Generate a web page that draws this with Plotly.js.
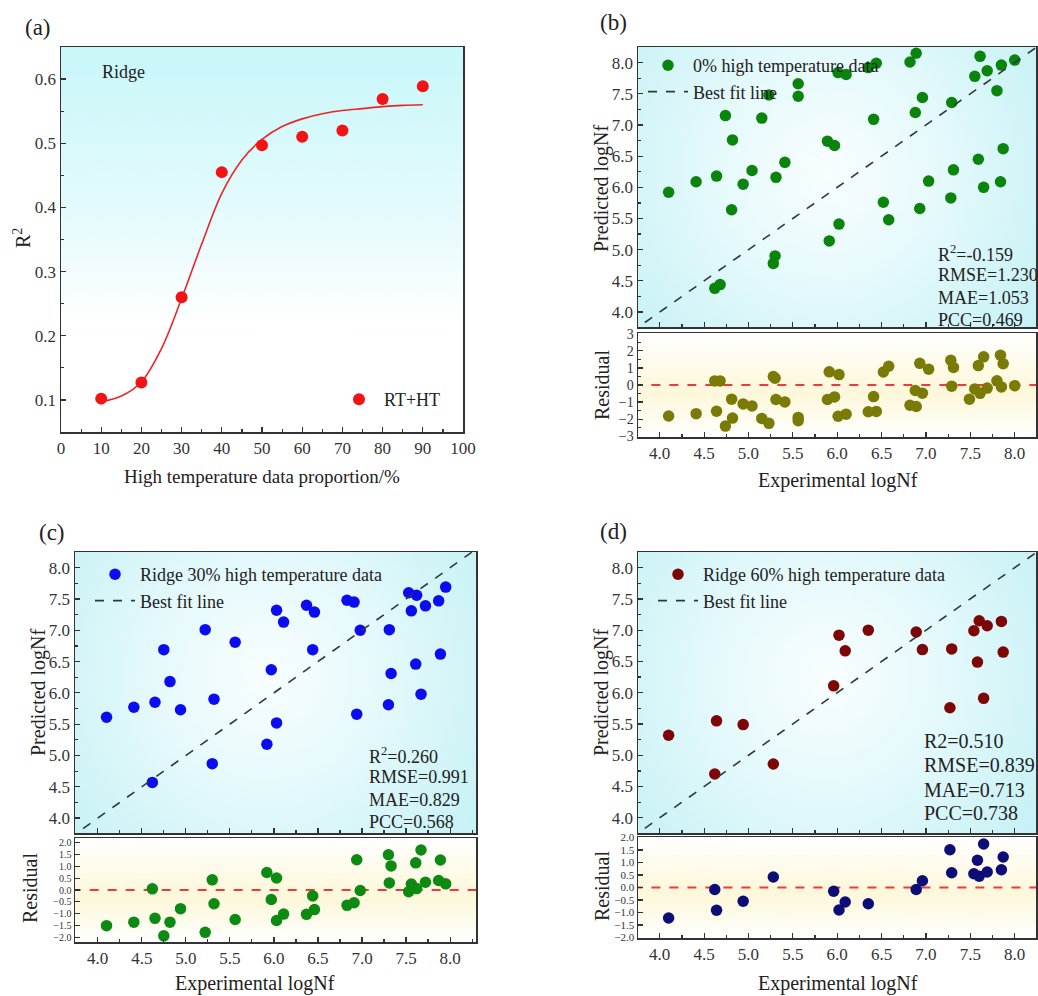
<!DOCTYPE html>
<html>
<head>
<meta charset="utf-8">
<script src="https://cdn.plot.ly/plotly-3.0.1.min.js"></script>
<style>html,body{margin:0;padding:0;background:#fff;}#chart{width:1038px;height:996px;}</style>
</head>
<body>
<div id="chart"></div>
<script>
// ---------------- DATA ----------------
// (a) R2 vs proportion of high temperature data
const aProportion = [10, 20, 30, 40, 50, 60, 70, 80, 90];
const aR2 = [0.102, 0.127, 0.260, 0.455, 0.497, 0.510, 0.520, 0.569, 0.589];
// fitted sigmoid curve
const aFitX = [10, 15, 20, 25, 30, 35, 40, 45, 50, 55, 60, 65, 70, 75, 80, 85, 90];
const aFitY = [0.097, 0.106, 0.128, 0.180, 0.258, 0.343, 0.422, 0.474, 0.506, 0.526, 0.538, 0.546, 0.551, 0.554, 0.557, 0.559, 0.560];

// (b) 0% high temperature data
const bExp  = [4.10,4.41,4.64,4.62,4.68,4.74,4.82,4.81,4.94,5.04,5.15,5.23,5.31,5.30,5.28,5.41,5.56,5.56,5.89,5.91,5.97,6.01,6.02,6.10,6.35,6.44,6.41,6.52,6.58,6.82,6.89,6.88,6.96,6.93,7.03,7.29,7.31,7.28,7.55,7.59,7.61,7.65,7.69,7.80,7.84,7.85,7.87,8.00];
const bPred = [5.92,6.09,6.18,4.38,4.44,7.15,6.76,5.64,6.05,6.27,7.11,7.48,6.16,4.90,4.78,6.40,7.66,7.46,6.74,5.14,6.67,7.84,5.41,7.81,7.92,7.99,7.09,5.76,5.48,8.01,8.15,7.20,7.44,5.66,6.10,7.36,6.28,5.83,7.78,6.45,8.10,6.00,7.87,7.55,6.09,7.96,6.62,8.04];
const bResX = [4.10,4.41,4.64,4.62,4.68,4.74,4.82,4.81,4.94,5.04,5.15,5.23,5.31,5.30,5.28,5.41,5.56,5.56,5.89,5.91,5.97,6.01,6.02,6.10,6.35,6.44,6.41,6.52,6.58,6.82,6.89,6.88,6.96,6.93,7.03,7.29,7.31,7.28,7.55,7.59,7.61,7.65,7.69,7.80,7.84,7.85,7.87,8.00,7.49];
const bRes  = [-1.82,-1.68,-1.54,0.24,0.24,-2.41,-1.94,-0.83,-1.11,-1.23,-1.96,-2.25,-0.85,0.40,0.50,-0.99,-2.10,-1.90,-0.85,0.77,-0.70,-1.83,0.61,-1.71,-1.57,-1.55,-0.68,0.76,1.10,-1.19,-1.26,-0.32,-0.48,1.27,0.93,-0.07,1.03,1.45,-0.23,1.14,-0.49,1.65,-0.18,0.25,1.75,-0.11,1.25,-0.04,-0.83];

// (c) Ridge 30% high temperature data
const cExp  = [4.10,4.41,4.65,4.62,4.75,4.82,4.94,5.22,5.32,5.30,5.56,5.92,5.97,6.03,6.03,6.11,6.37,6.44,6.46,6.83,6.91,6.98,6.94,7.31,7.33,7.30,7.53,7.56,7.62,7.61,7.67,7.72,7.87,7.89,7.95];
const cPred = [5.61,5.77,5.85,4.57,6.69,6.18,5.73,7.01,5.90,4.87,6.81,5.18,6.37,7.32,5.52,7.13,7.40,6.69,7.29,7.48,7.45,7.00,5.66,7.01,6.31,5.81,7.60,7.31,7.56,6.46,5.98,7.39,7.47,6.62,7.69];
const cResX = [4.10,4.41,4.65,4.62,4.75,4.82,4.94,5.22,5.32,5.30,5.56,5.92,5.97,6.03,6.03,6.11,6.37,6.44,6.46,6.83,6.91,6.98,6.94,7.31,7.33,7.30,7.53,7.56,7.62,7.61,7.67,7.72,7.87,7.89,7.95];
const cRes  = [-1.51,-1.36,-1.20,0.05,-1.94,-1.36,-0.79,-1.79,-0.58,0.43,-1.25,0.74,-0.40,-1.29,0.51,-1.02,-1.03,-0.25,-0.83,-0.65,-0.54,-0.02,1.28,0.30,1.02,1.49,-0.07,0.25,0.06,1.15,1.69,0.33,0.40,1.27,0.26];

// (d) Ridge 60% high temperature data
const dExp  = [4.10,4.64,4.62,4.94,5.28,5.96,6.02,6.09,6.35,6.89,6.96,7.29,7.27,7.54,7.60,7.58,7.65,7.69,7.85,7.87];
const dPred = [5.32,5.55,4.70,5.49,4.86,6.11,6.92,6.67,7.00,6.97,6.69,6.70,5.76,6.99,7.15,6.49,5.91,7.07,7.14,6.65];
const dResX = [4.10,4.64,4.62,4.94,5.28,5.96,6.02,6.09,6.35,6.89,6.96,7.29,7.27,7.54,7.60,7.58,7.65,7.69,7.85,7.87];
const dRes  = [-1.22,-0.91,-0.08,-0.55,0.42,-0.15,-0.90,-0.58,-0.65,-0.08,0.27,0.59,1.51,0.55,0.45,1.09,1.74,0.62,0.71,1.22];

// best fit (y = x) line end points and residual zero line
const fitLine = [3.5, 8.5];
const zeroLine = [0, 0];

// statistics text
const bStats = ["R<sup>2</sup>=-0.159", "RMSE=1.230", "MAE=1.053", "PCC=0.469"];
const cStats = ["R<sup>2</sup>=0.260", "RMSE=0.991", "MAE=0.829", "PCC=0.568"];
const dStats = ["R2=0.510", "RMSE=0.839", "MAE=0.713", "PCC=0.738"];

// ---------------- LAYOUT HELPERS ----------------
const W = 1038, H = 996;
const px = v => v / W;
const py = v => 1 - v / H;
const FONT = "Liberation Serif, Times New Roman, serif";
const AX = '#333333';

function gradLinear(stops) {
  const c = document.createElement('canvas'); c.width = 50; c.height = 300;
  const ctx = c.getContext('2d');
  const g = ctx.createLinearGradient(0, 0, 0, 300);
  stops.forEach(s => g.addColorStop(s[0], s[1]));
  ctx.fillStyle = g; ctx.fillRect(0, 0, 50, 300);
  return c.toDataURL();
}
function gradRadial() {
  const c = document.createElement('canvas'); c.width = 400; c.height = 280;
  const ctx = c.getContext('2d');
  ctx.fillStyle = '#c2f2f6'; ctx.fillRect(0, 0, 400, 280);
  const g = ctx.createRadialGradient(190, 125, 0, 190, 125, 290);
  g.addColorStop(0, '#f8feff');
  g.addColorStop(0.35, '#e8fafc');
  g.addColorStop(1, '#bff0f4');
  ctx.fillStyle = g; ctx.fillRect(0, 0, 400, 280);
  return c.toDataURL();
}
const imgA = gradLinear([[0, '#c8f7fa'], [0.45, '#e6fbfc'], [0.72, '#ffffff'], [1, '#ffffff']]);
const imgMain = gradRadial();
const imgRes = gradLinear([[0, '#ffffff'], [0.4, '#fefae4'], [0.58, '#fdf8da'], [1, '#ffffff']]);

function bgImage(src, xr, yr) {
  return {source: src, xref: 'paper', yref: 'paper', x: px(xr[0]), y: py(yr[0]),
          sizex: px(xr[1]) - px(xr[0]), sizey: py(yr[0]) - py(yr[1]),
          sizing: 'stretch', layer: 'below', xanchor: 'left', yanchor: 'top'};
}

function axis(dom, range, opts) {
  return Object.assign({
    domain: dom, range: range, showgrid: false, zeroline: false,
    showline: true, linecolor: AX, linewidth: 1.5, mirror: true,
    ticks: 'inside', ticklen: 5, tickwidth: 1.2, tickcolor: AX,
    tickfont: {family: FONT, size: 17, color: '#333'},
    fixedrange: true
  }, opts);
}

const aX = [61, 463], aY = [47, 432];
const bX = [638, 1036], bMY = [47, 327], bRY = [333, 437];
const cX = [75, 476], cMY = [552, 833], cRY = [838, 942];
const dX = [638, 1036], dMY = [552, 833], dRY = [837, 938];
const dx = r => [px(r[0]), px(r[1])];
const dy = r => [py(r[1]), py(r[0])];
const legendBase = {xanchor: 'left', yanchor: 'top', bgcolor: 'rgba(0,0,0,0)', tracegroupgap: 0, itemwidth: 40,
                    font: {family: FONT, size: 18, color: '#222'}, itemclick: false, itemdoubleclick: false};

const layout = {
  width: W, height: H, autosize: false,
  margin: {l: 0, r: 0, t: 0, b: 0},
  paper_bgcolor: '#ffffff', plot_bgcolor: 'rgba(0,0,0,0)',
  font: {family: FONT, color: '#222'},
  showlegend: true,
  // (a)
  xaxis: axis(dx(aX), [0, 100], {anchor: 'y', dtick: 10, tick0: 0,
         minor: {ticks: 'inside', ticklen: 3, dtick: 5, tickcolor: AX}}),
  yaxis: axis(dy(aY), [0.05, 0.65], {anchor: 'x', dtick: 0.1, tick0: 0.1, tickformat: '.1f',
         minor: {ticks: 'inside', ticklen: 3, dtick: 0.05, tickcolor: AX}}),
  // (b)
  xaxis2: axis(dx(bX), [3.755, 8.24], {anchor: 'y2', matches: 'x3', showticklabels: false, dtick: 0.5, tick0: 4,
          minor: {ticks: 'inside', ticklen: 3, dtick: 0.25, tickcolor: AX}}),
  yaxis2: axis(dy(bMY), [3.76, 8.25], {anchor: 'x2', dtick: 0.5, tick0: 4, tickformat: '.1f',
          minor: {ticks: 'inside', ticklen: 3, dtick: 0.25, tickcolor: AX}}),
  xaxis3: axis(dx(bX), [3.755, 8.24], {anchor: 'y3', dtick: 0.5, tick0: 4, tickformat: '.1f',
          minor: {ticks: 'inside', ticklen: 3, dtick: 0.25, tickcolor: AX}}),
  yaxis3: axis(dy(bRY), [-3.05, 3.05], {anchor: 'x3', dtick: 1, tick0: 0, tickfont: {family: FONT, size: 14, color: '#333'},
          minor: {ticks: 'inside', ticklen: 3, dtick: 0.5, tickcolor: AX}}),
  // (c)
  xaxis4: axis(dx(cX), [3.742, 8.294], {anchor: 'y4', matches: 'x5', showticklabels: false, dtick: 0.5, tick0: 4,
          minor: {ticks: 'inside', ticklen: 3, dtick: 0.25, tickcolor: AX}}),
  yaxis4: axis(dy(cMY), [3.762, 8.25], {anchor: 'x4', dtick: 0.5, tick0: 4, tickformat: '.1f',
          minor: {ticks: 'inside', ticklen: 3, dtick: 0.25, tickcolor: AX}}),
  xaxis5: axis(dx(cX), [3.742, 8.294], {anchor: 'y5', dtick: 0.5, tick0: 4, tickformat: '.1f',
          minor: {ticks: 'inside', ticklen: 3, dtick: 0.25, tickcolor: AX}}),
  yaxis5: axis(dy(cRY), [-2.2, 2.2], {anchor: 'x5', dtick: 0.5, tick0: 0, tickformat: '.1f',
          tickfont: {family: FONT, size: 10, color: '#333'}}),
  // (d)
  xaxis6: axis(dx(dX), [3.755, 8.24], {anchor: 'y6', matches: 'x7', showticklabels: false, dtick: 0.5, tick0: 4,
          minor: {ticks: 'inside', ticklen: 3, dtick: 0.25, tickcolor: AX}}),
  yaxis6: axis(dy(dMY), [3.757, 8.25], {anchor: 'x6', dtick: 0.5, tick0: 4, tickformat: '.1f',
          minor: {ticks: 'inside', ticklen: 3, dtick: 0.25, tickcolor: AX}}),
  xaxis7: axis(dx(dX), [3.755, 8.24], {anchor: 'y7', dtick: 0.5, tick0: 4, tickformat: '.1f',
          minor: {ticks: 'inside', ticklen: 3, dtick: 0.25, tickcolor: AX}}),
  yaxis7: axis(dy(dRY), [-2.02, 2.02], {anchor: 'x7', dtick: 0.5, tick0: 0, tickformat: '.1f',
          tickfont: {family: FONT, size: 11, color: '#333'}}),
  legend:  Object.assign({}, legendBase, {x: px(334), y: py(381)}),
  legend2: Object.assign({}, legendBase, {x: px(643), y: py(47)}),
  legend3: Object.assign({}, legendBase, {x: px(90), y: py(556)}),
  legend4: Object.assign({}, legendBase, {x: px(653), y: py(556)}),
  images: [
    bgImage(imgA, aX, aY),
    bgImage(imgMain, bX, bMY), bgImage(imgRes, bX, bRY),
    bgImage(imgMain, cX, cMY), bgImage(imgRes, cX, cRY),
    bgImage(imgMain, dX, dMY), bgImage(imgRes, dX, dRY)
  ],
  annotations: []
};

function txt(text, x, y, size, opts) {
  layout.annotations.push(Object.assign({
    text: text, x: px(x), y: py(y), xref: 'paper', yref: 'paper', showarrow: false,
    xanchor: 'center', yanchor: 'middle', font: {family: FONT, size: size, color: '#222'}
  }, opts || {}));
}
// panel labels
txt('(a)', 38, 27, 23); txt('(b)', 613, 23, 23); txt('(c)', 52, 532, 23); txt('(d)', 613, 531, 23);
// panel a titles
txt('R<sup>2</sup>', 22, 238, 20, {textangle: -90});
txt('High temperature data proportion/%', 262, 477, 19);
txt('Ridge', 100, 72, 18, {xanchor: 'left'});
// b titles
txt('Predicted logNf', 601, 188, 20, {textangle: -90});
txt('Residual', 602, 385, 20, {textangle: -90});
txt('Experimental logNf', 838, 480, 20);
// c titles
txt('Predicted logNf', 38, 692, 20, {textangle: -90});
txt('Residual', 30, 888, 20, {textangle: -90});
txt('Experimental logNf', 255, 983, 20);
// d titles
txt('Predicted logNf', 601, 692, 20, {textangle: -90});
txt('Residual', 602, 886, 20, {textangle: -90});
txt('Experimental logNf', 838, 983, 20);
// stats
const bSY = [253, 275, 298, 320], cSY = [755, 777, 800, 822], dSY = [741, 765, 790, 813];
bStats.forEach((s, i) => txt(s, 936, bSY[i], 18, {xanchor: 'left'}));
cStats.forEach((s, i) => txt(s, 367, cSY[i], 18, {xanchor: 'left'}));
dStats.forEach((s, i) => txt(s, 922, dSY[i], 20, {xanchor: 'left'}));

// ---------------- TRACES ----------------
const fitStyle = {color: '#2d3a3a', width: 1.6, dash: 'dash'};
const zeroStyle = {color: '#f03a3a', width: 2, dash: 'dash'};
const traces = [
  // (a)
  {x: aFitX, y: aFitY, xaxis: 'x', yaxis: 'y', mode: 'lines', line: {color: '#e8262a', width: 1.6, shape: 'spline'},
   showlegend: false, hoverinfo: 'skip'},
  {x: aProportion, y: aR2, xaxis: 'x', yaxis: 'y', mode: 'markers', name: 'RT+HT', legend: 'legend',
   marker: {color: '#f21414', size: 12}},
  // (b)
  {x: bExp, y: bPred, xaxis: 'x2', yaxis: 'y2', mode: 'markers', name: '0% high temperature data', legend: 'legend2',
   marker: {color: '#0b840d', size: 11.5}},
  {x: fitLine, y: fitLine, xaxis: 'x2', yaxis: 'y2', mode: 'lines', name: 'Best fit line', legend: 'legend2', line: fitStyle},
  {x: fitLine, y: zeroLine, xaxis: 'x3', yaxis: 'y3', mode: 'lines', line: zeroStyle, showlegend: false, hoverinfo: 'skip'},
  {x: bResX, y: bRes, xaxis: 'x3', yaxis: 'y3', mode: 'markers', showlegend: false,
   marker: {color: '#7a7a06', size: 11.5}},
  // (c)
  {x: cExp, y: cPred, xaxis: 'x4', yaxis: 'y4', mode: 'markers', name: 'Ridge 30% high temperature data', legend: 'legend3',
   marker: {color: '#0c0cf0', size: 11.5}},
  {x: fitLine, y: fitLine, xaxis: 'x4', yaxis: 'y4', mode: 'lines', name: 'Best fit line', legend: 'legend3', line: fitStyle},
  {x: fitLine, y: zeroLine, xaxis: 'x5', yaxis: 'y5', mode: 'lines', line: zeroStyle, showlegend: false, hoverinfo: 'skip'},
  {x: cResX, y: cRes, xaxis: 'x5', yaxis: 'y5', mode: 'markers', showlegend: false,
   marker: {color: '#0d8a12', size: 11.5}},
  // (d)
  {x: dExp, y: dPred, xaxis: 'x6', yaxis: 'y6', mode: 'markers', name: 'Ridge 60% high temperature data', legend: 'legend4',
   marker: {color: '#7d0606', size: 11.5}},
  {x: fitLine, y: fitLine, xaxis: 'x6', yaxis: 'y6', mode: 'lines', name: 'Best fit line', legend: 'legend4', line: fitStyle},
  {x: fitLine, y: zeroLine, xaxis: 'x7', yaxis: 'y7', mode: 'lines', line: zeroStyle, showlegend: false, hoverinfo: 'skip'},
  {x: dResX, y: dRes, xaxis: 'x7', yaxis: 'y7', mode: 'markers', showlegend: false,
   marker: {color: '#0d0d78', size: 11.5}}
];

Plotly.newPlot('chart', traces, layout, {displayModeBar: false, staticPlot: true});
</script>
</body>
</html>
